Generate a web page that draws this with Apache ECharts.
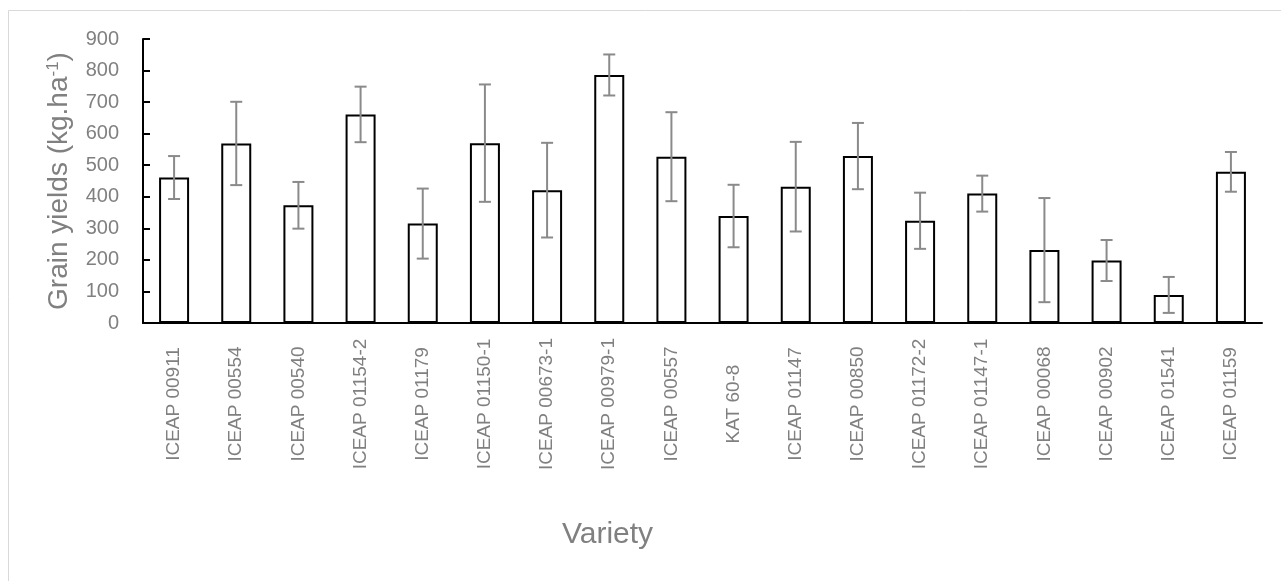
<!DOCTYPE html>
<html>
<head>
<meta charset="utf-8">
<script src="https://cdn.jsdelivr.net/npm/echarts@6/dist/echarts.min.js"></script>
<style>
  html, body { margin: 0; padding: 0; background: #ffffff; }
  #chart { width: 1281px; height: 581px; }
</style>
</head>
<body>
<div id="chart"></div>
<script>
// Grain yield per variety (kg/ha) with error bar half-widths
const varieties = [
  'ICEAP 00911', 'ICEAP 00554', 'ICEAP 00540', 'ICEAP 01154-2', 'ICEAP 01179',
  'ICEAP 01150-1', 'ICEAP 00673-1', 'ICEAP 00979-1', 'ICEAP 00557', 'KAT 60-8',
  'ICEAP 01147', 'ICEAP 00850', 'ICEAP 01172-2', 'ICEAP 01147-1', 'ICEAP 00068',
  'ICEAP 00902', 'ICEAP 01541', 'ICEAP 01159'
];
const yieldMeans = [461, 569, 373, 661, 315, 570, 421, 786, 527, 339, 432, 529, 324, 410, 231, 198, 89, 479];
const yieldErrors = [68, 132, 74, 88, 111, 186, 150, 65, 141, 99, 142, 105, 89, 57, 165, 65, 57, 63];
const yTicks = { min: 0, max: 900, interval: 100 };

const errorData = yieldMeans.map((m, i) => [i, m - yieldErrors[i], m + yieldErrors[i]]);

const chart = echarts.init(document.getElementById('chart'), null, { renderer: 'canvas' });

const textGrey = '#808080';

chart.setOption({
  animation: false,
  backgroundColor: '#ffffff',
  graphic: [{
    type: 'rect',
    shape: { x: 8.5, y: 10.5, width: 1300, height: 620 },
    style: { fill: 'none', stroke: '#d9d9d9', lineWidth: 1 },
    silent: true
  }],
  grid: {
    left: 143, right: 19, top: 39, bottom: 258,
    containLabel: false,
    outerBoundsMode: 'none'
  },
  xAxis: {
    type: 'category',
    data: varieties,
    name: 'Variety',
    nameLocation: 'middle',
    nameGap: 197,
    nameTextStyle: {
      fontFamily: 'Liberation Sans',
      fontSize: 30,
      color: textGrey,
      padding: [0, 190, 0, 0]
    },
    axisLine: { lineStyle: { color: '#000000', width: 2 } },
    axisTick: { show: false },
    axisLabel: {
      interval: 0,
      rotate: 90,
      align: 'center',
      verticalAlign: 'middle',
      margin: 81,
      fontFamily: 'Liberation Sans',
      fontSize: 19,
      color: textGrey
    },
    splitLine: { show: false }
  },
  yAxis: {
    type: 'value',
    min: yTicks.min,
    max: yTicks.max,
    interval: yTicks.interval,
    name: 'Grain yields (kg.ha{sup|-1})',
    nameLocation: 'middle',
    nameRotate: 90,
    nameGap: 70,
    nameTextStyle: {
      fontFamily: 'Liberation Sans',
      fontSize: 28,
      color: textGrey,
      rich: {
        sup: {
          fontFamily: 'Liberation Sans',
          fontSize: 17,
          color: textGrey,
          verticalAlign: 'top',
          lineHeight: 28
        }
      }
    },
    axisLine: { show: true, lineStyle: { color: '#000000', width: 2 } },
    axisTick: { show: true, inside: true, length: 7, lineStyle: { color: '#000000', width: 2 } },
    axisLabel: {
      margin: 24,
      fontFamily: 'Liberation Sans',
      fontSize: 20,
      color: textGrey
    },
    splitLine: { show: false }
  },
  series: [
    {
      type: 'bar',
      data: yieldMeans,
      barWidth: 30,
      itemStyle: { color: '#ffffff', borderColor: '#000000', borderWidth: 2 },
      z: 2
    },
    {
      type: 'custom',
      data: errorData,
      z: 3,
      renderItem: function (params, api) {
        const idx = api.value(0);
        const low = api.coord([idx, api.value(1)]);
        const high = api.coord([idx, api.value(2)]);
        const half = 6;
        const style = { stroke: '#8a8a8a', lineWidth: 2, fill: null };
        return {
          type: 'group',
          children: [
            { type: 'line', shape: { x1: high[0], y1: high[1], x2: low[0], y2: low[1] }, style: style },
            { type: 'line', shape: { x1: high[0] - half, y1: high[1], x2: high[0] + half, y2: high[1] }, style: style },
            { type: 'line', shape: { x1: low[0] - half, y1: low[1], x2: low[0] + half, y2: low[1] }, style: style }
          ]
        };
      }
    }
  ]
});
</script>
</body>
</html>
